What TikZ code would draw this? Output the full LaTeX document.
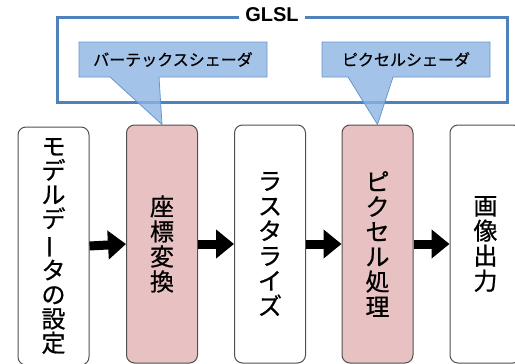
\documentclass[tikz,border=0pt]{standalone}
\usepackage{fontspec}
\setmainfont{Liberation Sans}
\newfontfamily\jp[FakeBold=0.7]{Noto Sans CJK JP}
\usetikzlibrary{arrows.meta}
\definecolor{frameblue}{RGB}{79,129,189}
\definecolor{callfill}{RGB}{141,180,226}
\definecolor{callline}{RGB}{105,150,205}
\definecolor{boxpink}{RGB}{232,194,194}
\definecolor{boxline}{RGB}{80,80,80}
\begin{document}
\begin{tikzpicture}[x=1pt,y=-1pt,
  stage/.style={draw=boxline, line width=1pt, rounded corners=8pt, minimum width=71pt,
    minimum height=238pt, inner sep=0pt, align=center,
    font=\jp\fontsize{24pt}{25pt}\selectfont},
  shader/.style={stage, fill=boxpink},
  flow/.style={line width=9pt, -{Triangle[length=18pt,width=28pt]}},
  callout/.style={fill=callfill, draw=callline, line width=0.8pt, fill opacity=0.8},
  calltext/.style={font=\jp\fontsize{16pt}{18pt}\selectfont, inner sep=0pt}
]
\useasboundingbox (0,0) rectangle (515,364);
\clip (0,0) rectangle (515,364);

% GLSL frame
\node[draw=frameblue, line width=3pt, minimum width=450pt, minimum height=85pt, inner sep=0pt]
  (frame) at (282,59.5) {};
\node[fill=white, inner xsep=6pt, inner ysep=1pt, font=\bfseries\fontsize{20pt}{21pt}\selectfont]
  (glsl) at (272,15) {GLSL};

% stages
\node[stage, font=\jp\fontsize{24pt}{24.2pt}\selectfont] (b1) at (53.5,246)
  {モ\\デ\\ル\\デ\\\rotatebox[origin=c]{90}{ー}\\タ\\の\\設\\定};
\node[shader] (b2) at (162,244) {座\\標\\変\\換};
\node[stage]  (b3) at (270,244) {ラ\\ス\\タ\\ラ\\イ\\ズ};
\node[shader] (b4) at (377.5,244) {ピ\\ク\\セ\\ル\\処\\理};
\node[stage]  (b5) at (485.5,244) {画\\像\\出\\力};

% arrows
\draw[flow] (b1.east) -- (b2.west);
\draw[flow] (b2.east) -- (b3.west);
\draw[flow] (b3.east) -- (b4.west);
\draw[flow] (b4.east) -- (b5.west);

% callouts
\draw[callout] (79,42) -- (267,42) -- (267,77) -- (159,77) -- (b2.north) -- (110,77) -- (79,77) -- cycle;
\node[calltext] (vs) at (173,59.5) {バーテックスシェーダ};
\draw[callout] (322,42) -- (490,42) -- (490,77) -- (393,77) -- (b4.north) -- (348,77) -- (322,77) -- cycle;
\node[calltext] (ps) at (406,59.5) {ピクセルシェーダ};
\end{tikzpicture}
\end{document}
